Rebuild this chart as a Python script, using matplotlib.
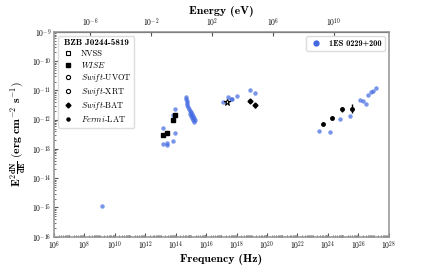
import matplotlib
matplotlib.use('Agg')
import matplotlib.pyplot as plt
import numpy as np
from matplotlib.ticker import LogLocator, FixedLocator, NullFormatter

plt.rcParams['mathtext.fontset'] = 'cm'
plt.rcParams['font.family'] = 'serif'
plt.rcParams['font.serif'] = ['cmr10']
plt.rcParams['axes.formatter.use_mathtext'] = True

H_EV = 4.135667e-15  # Planck constant, eV s

# 1ES 0229+200 (log10 nu, log10 nuFnu)
ref_lognu = [9.13, 13.14, 13.40, 13.94, 13.14, 13.40, 13.40, 13.79, 13.79, 13.94,
             14.667, 14.687, 14.713, 14.733, 14.752, 14.798, 14.864, 14.930, 14.995,
             14.930, 15.061, 14.995, 15.127, 15.061, 15.192, 15.127, 15.258, 15.192,
             17.08, 17.45, 17.60, 17.71, 18.04, 18.87, 19.24,
             23.40, 24.12, 24.82, 25.48, 26.14, 26.31, 26.49, 26.64, 26.81, 26.97, 27.19]
ref_logf = [-14.94, -12.28, -12.45, -12.44, -12.82, -12.80, -12.85, -12.74, -11.85, -11.64,
            -11.231, -11.299, -11.368, -11.437, -11.505, -11.574, -11.643, -11.711, -11.745,
            -11.814, -11.814, -11.883, -11.883, -11.951, -11.951, -12.020, -12.020, -12.071,
            -11.41, -11.22, -11.28, -11.30, -11.19, -10.99, -11.10,
            -12.39, -12.42, -11.99, -11.87, -11.33, -11.37, -11.48, -11.16, -11.05, -11.01, -10.93]

# BZB J0244-5819
wise_lognu = [13.14, 13.40, 13.79, 13.94]
wise_logf = [-12.53, -12.45, -12.00, -11.85]
xrt_lognu = [17.38]
xrt_logf = [-11.39]
bat_lognu = [18.87, 19.24]
bat_logf = [-11.36, -11.51]
bat_err = [0.08, 0.09]
lat_lognu = [23.68, 24.30, 24.93, 25.55]
lat_logf = [-12.13, -11.93, -11.65, -11.62]
lat_err = [0.0, 0.0, 0.09, 0.15]


def p(a):
    return 10.0 ** np.array(a)


def yerr(logf, err):
    logf = np.array(logf)
    err = np.array(err)
    return [p(logf) - p(logf - err), p(logf + err) - p(logf)]


fig, ax = plt.subplots(figsize=(4.32, 2.66), dpi=100)

ax.plot(p(ref_lognu), p(ref_logf), 'o', color='royalblue', alpha=0.7, ms=3.2,
        mec='none', zorder=2)

ax.plot(p(wise_lognu), p(wise_logf), 's', color='black', ms=3, zorder=3)
ax.plot(p(xrt_lognu), p(xrt_logf), '*', mfc='white', mec='black', mew=0.8, ms=5, zorder=3)
ax.errorbar(p(bat_lognu), p(bat_logf), yerr=yerr(bat_logf, bat_err), fmt='D',
            color='black', ms=2.5, elinewidth=1, capsize=0, zorder=3)
ax.errorbar(p(lat_lognu), p(lat_logf), yerr=yerr(lat_logf, lat_err), fmt='o',
            color='black', ms=2.5, elinewidth=1, capsize=0, zorder=3)

ax.set_xscale('log')
ax.set_yscale('log')
ax.set_xlim(1e6, 1e28)
ax.set_ylim(1e-16, 1e-9)

ax.xaxis.set_major_locator(FixedLocator(10.0 ** np.arange(6, 29, 2)))
ax.xaxis.set_minor_locator(LogLocator(base=10, subs=np.arange(1, 10), numticks=100))
ax.xaxis.set_minor_formatter(NullFormatter())
ax.yaxis.set_major_locator(FixedLocator(10.0 ** np.arange(-16, -8)))
ax.yaxis.set_minor_locator(LogLocator(base=10, subs=np.arange(2, 10), numticks=100))
ax.yaxis.set_minor_formatter(NullFormatter())
ax.tick_params(which='both', direction='in', labelsize=5.5, color='#555555', pad=2)
ax.tick_params(which='major', length=3)
ax.tick_params(which='minor', length=1.5)

for s in ax.spines.values():
    s.set_color('#999999')
    s.set_linewidth(1.2)

sec = ax.secondary_xaxis('top', functions=(lambda nu: nu * H_EV, lambda e: e / H_EV))
sec.xaxis.set_major_locator(FixedLocator([1e-6, 1e-2, 1e2, 1e6, 1e10]))
sec.xaxis.set_minor_locator(FixedLocator([]))
sec.tick_params(labelsize=5.5, direction='in', length=3, color='#555555', pad=2)
sec.set_xlabel('Energy (eV)', fontsize=8.5, family='cmb10', labelpad=2)

ax.set_xlabel('Frequency (Hz)', fontsize=8.5, family='cmb10', labelpad=1)
ax.set_ylabel(r'$\mathbf{E^2\frac{dN}{dE}\ (erg\ cm^{-2}\ s^{-1})}$', fontsize=8.5, labelpad=2)

# legends
h_nvss, = ax.plot([], [], 's', mfc='white', mec='black', mew=0.8, ms=3)
h_wise, = ax.plot([], [], 's', color='black', ms=2.5)
h_uvot, = ax.plot([], [], 'o', mfc='white', mec='black', mew=0.8, ms=3)
h_xrt, = ax.plot([], [], 'o', mfc='white', mec='black', mew=0.8, ms=3)
h_bat, = ax.plot([], [], 'D', color='black', ms=2.5)
h_lat, = ax.plot([], [], 'o', color='black', ms=2.2)
leg1 = ax.legend([h_nvss, h_wise, h_uvot, h_xrt, h_bat, h_lat],
                 ['NVSS', r'$\mathit{WISE}$', r'$\mathit{Swift}$-UVOT', r'$\mathit{Swift}$-XRT',
                  r'$\mathit{Swift}$-BAT', r'$\mathit{Fermi}$-LAT'],
                 title='BZB J0244-5819', loc='upper left', fontsize=6,
                 title_fontproperties={'family': 'cmb10', 'size': 6.5},
                 handlelength=1.5, labelspacing=0.25,
                 borderpad=0.4, framealpha=1, edgecolor='#dddddd')
ax.add_artist(leg1)
h_ref, = ax.plot([], [], 'o', color='royalblue', ms=3.5)
ax.legend([h_ref], ['1ES 0229+200'], loc='upper right',
          prop={'family': 'cmb10', 'size': 6},
          handlelength=1.5, framealpha=1, edgecolor='#dddddd')

fig.savefig('out.png', dpi=100)
